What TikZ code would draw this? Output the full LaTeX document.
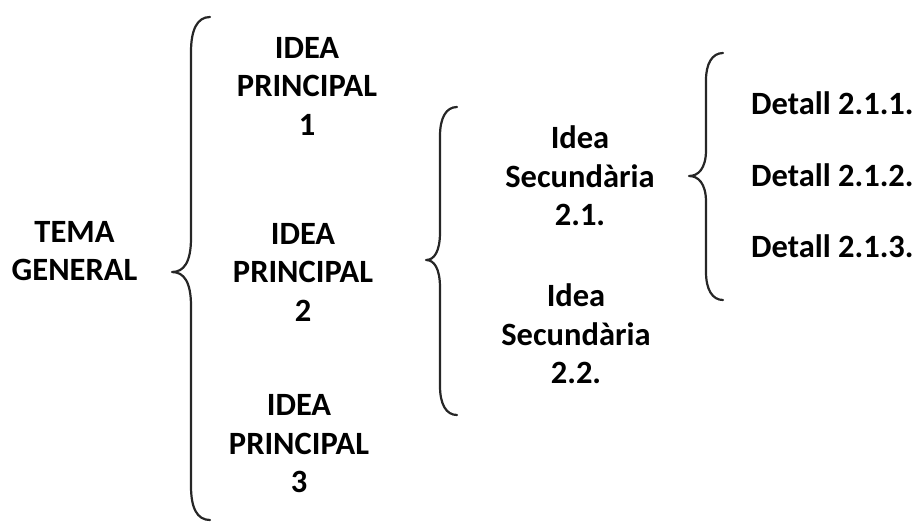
\documentclass[tikz,border=0pt]{standalone}
\usepackage{fontspec}
\setmainfont{Carlito}
\begin{document}
\begin{tikzpicture}[x=1pt,y=-1pt,
  lbl/.style={font=\fontsize{32.5}{38.5}\selectfont\bfseries, align=center, inner sep=0pt, text=black},
  brace/.style={line width=2.2pt, line cap=round, line join=round, draw=black!85}]
\useasboundingbox (0,0) rectangle (912,523);
% text nodes
\node[lbl] (tema) at (74.5,251) {TEMA\\GENERAL};
\node[lbl] (ip1) at (307,86) {IDEA\\PRINCIPAL\\1};
\node[lbl] (ip2) at (303,272) {IDEA\\PRINCIPAL\\2};
\node[lbl] (ip3) at (299,444) {IDEA\\PRINCIPAL\\3};
\node[lbl] (is1) at (580,176) {Idea\\Secundària\\2.1.};
\node[lbl] (is2) at (576,334) {Idea\\Secundària\\2.2.};
\node[lbl,anchor=west] (d1) at (751,103) {Detall 2.1.1.};
\node[lbl,anchor=west] (d2) at (751,175) {Detall 2.1.2.};
\node[lbl,anchor=west] (d3) at (751,246) {Detall 2.1.3.};
% brace 1
\coordinate (b1t) at (210,17);
\coordinate (b1m) at (172,272);
\coordinate (b1b) at (210,520);
\draw[brace] (b1t) .. controls (197,17) and (191,30) .. (191,52) -- (191,238)
  .. controls (191,262) and (184,272) .. (b1m)
  .. controls (184,272) and (191,282) .. (191,306) -- (191,486)
  .. controls (191,508) and (197,520) .. (b1b);
% brace 2
\coordinate (b2t) at (457,107);
\coordinate (b2m) at (426,260);
\coordinate (b2b) at (457,415);
\draw[brace] (b2t) .. controls (446,107) and (440,118) .. (440,136) -- (440,232)
  .. controls (440,252) and (434,260) .. (b2m)
  .. controls (434,260) and (440,268) .. (440,288) -- (440,386)
  .. controls (440,404) and (446,415) .. (b2b);
% brace 3
\coordinate (b3t) at (723,53);
\coordinate (b3m) at (689,176);
\coordinate (b3b) at (723,300);
\draw[brace] (b3t) .. controls (712,53) and (706,64) .. (706,80) -- (706,150)
  .. controls (706,169) and (698,176) .. (b3m)
  .. controls (698,176) and (706,183) .. (706,202) -- (706,272)
  .. controls (706,289) and (712,300) .. (b3b);
\end{tikzpicture}
\end{document}
